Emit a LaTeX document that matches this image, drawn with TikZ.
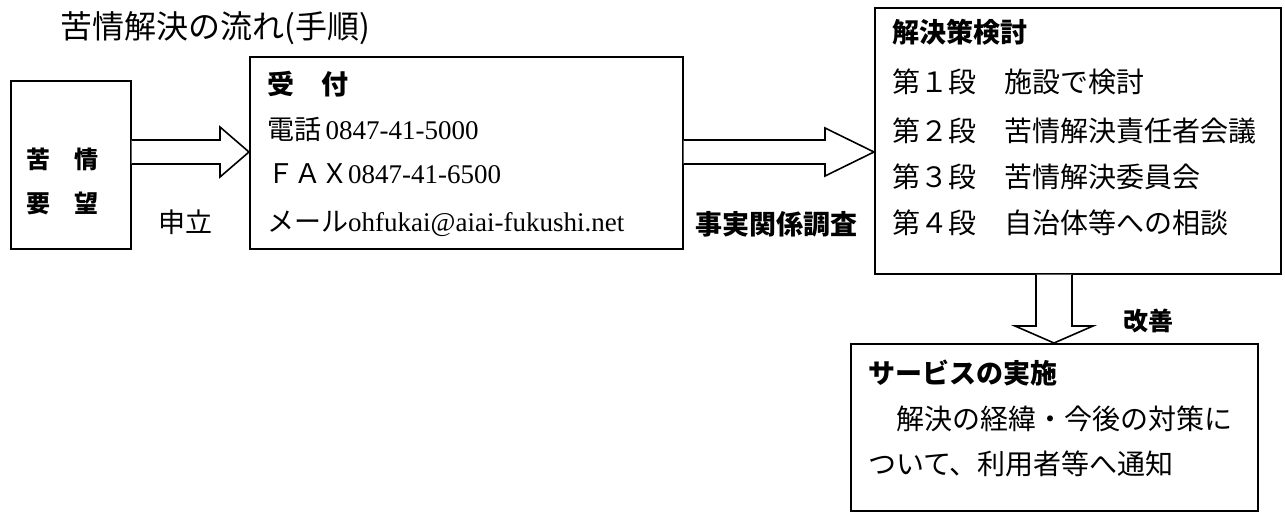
\documentclass[tikz,border=0pt]{standalone}
\usepackage{fontspec}
\setmainfont{Liberation Serif}
\newfontfamily\jp{Noto Sans CJK JP}
\begin{document}
\begin{tikzpicture}[x=1pt,y=-1pt,
  box/.style={draw,line width=1.6pt,anchor=north west,inner sep=0pt},
  blockarr/.style={draw,line width=1.6pt,line join=miter,fill=white},
  txt/.style={anchor=west,inner sep=0pt,font=\fontsize{28}{28}\selectfont\jp},
  stxt/.style={anchor=west,inner sep=0pt,font=\fontsize{27}{27}\selectfont\jp},
  btxt/.style={anchor=west,inner sep=0pt,font=\fontsize{27}{27}\selectfont\jp\bfseries}]
\useasboundingbox (0,0) rectangle (1285,513);
% title
\node[anchor=west,inner sep=0pt,font=\fontsize{32}{32}\selectfont\jp] (title) at (60,28) {苦情解決の流れ(手順)};
% boxes
\node[box,minimum width=120pt,minimum height=168pt] (kujo) at (10,80) {};
\node[box,minimum width=433pt,minimum height=192pt] (uke) at (249,56) {};
\node[box,minimum width=406pt,minimum height=266pt] (kaiketsu) at (874,7) {};
\node[box,minimum width=407pt,minimum height=167pt] (service) at (850,343) {};
% left box text
\node[btxt,font=\fontsize{24}{24}\selectfont\jp\bfseries] (k1) at (26,159) {苦　情};
\node[btxt,font=\fontsize{24}{24}\selectfont\jp\bfseries] (k2) at (26,203) {要　望};
% uketsuke text
\node[btxt] (u0) at (267,84) {受　付};
\node[stxt] (u1) at (267,129) {電話\,{\rmfamily 0847-41-5000}};
\node[stxt] (u2) at (267,174) {ＦＡＸ{\rmfamily 0847-41-6500}};
\node[stxt] (u3) at (267,224) {メール{\rmfamily ohfukai@aiai-fukushi.net}};
% kaiketsu text
\node[btxt] (s0) at (892,32) {解決策検討};
\node[txt] (s1) at (892,82) {第１段　施設で検討};
\node[txt] (s2) at (892,131) {第２段　苦情解決責任者会議};
\node[txt] (s3) at (892,177) {第３段　苦情解決委員会};
\node[txt] (s4) at (892,223) {第４段　自治体等への相談};
% service text
\node[btxt] (v0) at (868,373) {サービスの実施};
\node[txt] (v1) at (868,419) {　解決の経緯・今後の対策に};
\node[txt] (v2) at (868,464) {ついて、利用者等へ通知};
% labels
\node[stxt] (moushi) at (158,222) {申立};
\node[btxt] (jijitsu) at (695,224) {事実関係調査};
\node[btxt,font=\fontsize{25}{25}\selectfont\jp\bfseries] (kaizen) at (1123,321) {改善};
% arrows
\draw[blockarr] (kujo.east |- 0,140) -- (220,140) -- (220,127) -- (uke.west |- 0,152)
  -- (220,177) -- (220,164) -- (kujo.east |- 0,164);
\draw[blockarr] (uke.east |- 0,140) -- (825,140) -- (825,128) -- (kaiketsu.west |- 0,152)
  -- (825,176) -- (825,164) -- (uke.east |- 0,164);
\draw[blockarr] (kaiketsu.south -| 1036,0) -- (1036,326) -- (1015,326) -- (service.north -| 1054,0)
  -- (1093,326) -- (1072,326) -- (kaiketsu.south -| 1072,0);
\end{tikzpicture}
\end{document}
